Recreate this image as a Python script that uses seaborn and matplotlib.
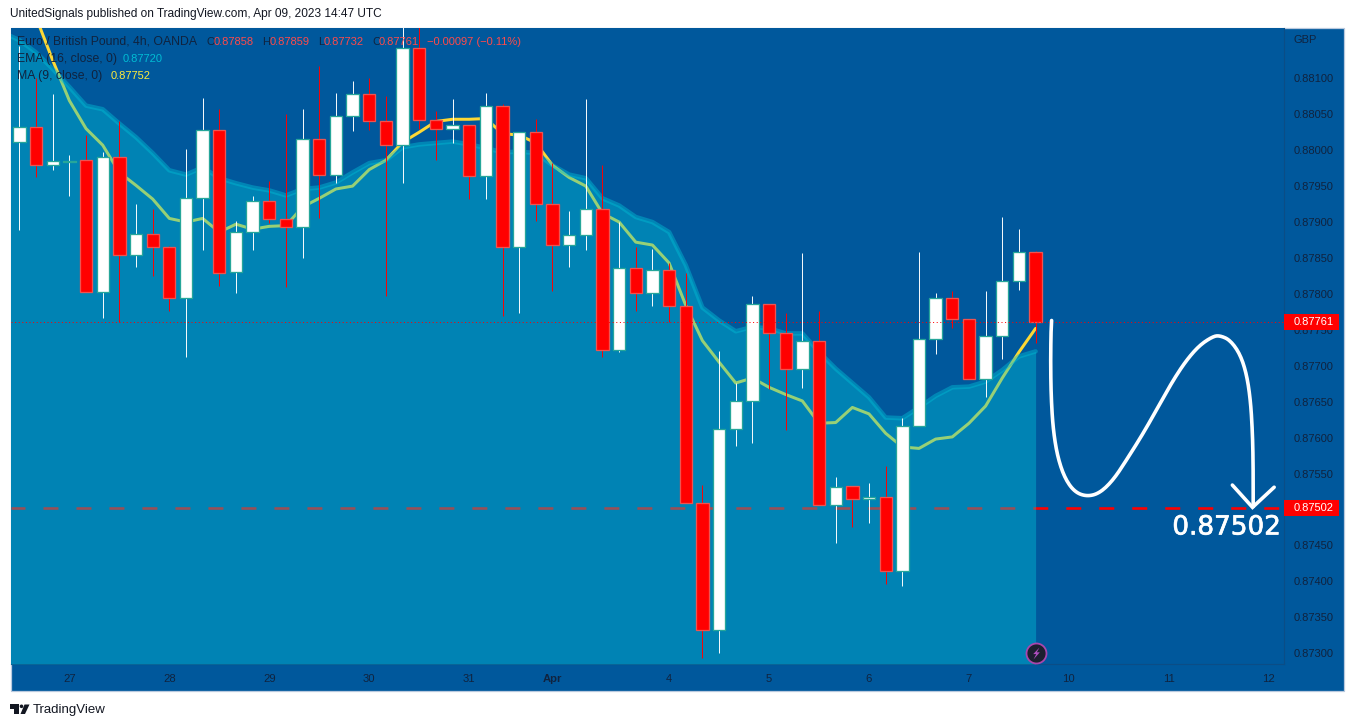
import numpy as np
import matplotlib
matplotlib.use("Agg")
import matplotlib.pyplot as plt
import matplotlib.patheffects as pe
from matplotlib.patches import Rectangle, Polygon, Ellipse
from matplotlib.transforms import blended_transform_factory
import seaborn as sns

opens = [.88012,.88032,.87980,.87984,.87986,.87802,.87990,.87854,.87884,.87865,
 .87794,.87934,.88028,.87830,.87886,.87929,.87904,.87893,.88015,.87966,
 .88047,.88078,.88040,.88007,.88142,.88042,.88029,.88035,.87964,.88062,
 .87865,.88025,.87925,.87868,.87882,.87918,.87722,.87836,.87801,.87833,
 .87783,.87509,.87332,.87612,.87651,.87786,.87745,.87695,.87734,.87506,
 .87532,.87514,.87518,.87415,.87616,.87737,.87794,.87765,.87681,.87742,
 .87818,.87858]
closes = [.88032,.87980,.87985,.87985,.87802,.87990,.87854,.87884,.87865,.87794,
 .87934,.88028,.87829,.87886,.87929,.87904,.87893,.88015,.87966,.88047,
 .88078,.88040,.88007,.88142,.88042,.88029,.88035,.87964,.88062,.87865,
 .88025,.87925,.87868,.87882,.87918,.87722,.87836,.87801,.87833,.87783,
 .87509,.87332,.87612,.87651,.87786,.87745,.87695,.87734,.87506,.87531,
 .87514,.87518,.87415,.87616,.87737,.87794,.87765,.87681,.87742,.87818,
 .87858,.87761]
highs = [.88145,.88100,.88078,.87993,.88021,.87998,.88040,.87925,.87918,.87866,
 .88001,.88072,.88057,.87902,.87936,.87957,.88051,.88057,.88117,.88079,
 .88096,.88100,.88075,.88175,.88175,.88054,.88071,.88035,.88079,.88064,
 .88025,.88044,.87982,.87915,.88071,.87980,.87900,.87865,.87862,.87843,
 .87829,.87534,.87720,.87676,.87797,.87786,.87774,.87857,.87776,.87545,
 .87532,.87537,.87560,.87628,.87858,.87801,.87804,.87765,.87804,.87907,
 .87890,.87859]
lows = [.87889,.87962,.87972,.87936,.87802,.87766,.87761,.87838,.87825,.87776,
 .87712,.87861,.87811,.87801,.87861,.87898,.87809,.87850,.87905,.87954,
 .88026,.88028,.87797,.87954,.88030,.87987,.88010,.87932,.87932,.87769,
 .87773,.87902,.87804,.87838,.87861,.87712,.87719,.87776,.87783,.87761,
 .87509,.87293,.87300,.87588,.87592,.87667,.87610,.87669,.87506,.87454,
 .87475,.87481,.87396,.87393,.87616,.87716,.87752,.87681,.87656,.87710,
 .87805,.87732]
# MA(9) starts at candle 1, EMA(16) starts one candle before the first visible one
ma_values = [.88185,.88125,.88069,.88030,.88007,.87969,.87951,.87932,.87905,.87900,
 .87905,.87886,.87897,.87890,.87894,.87895,.87921,.87933,.87946,.87950,
 .87973,.87986,.88011,.88025,.88040,.88043,.88043,.88044,.88023,.88021,
 .88010,.87979,.87962,.87950,.87912,.87900,.87872,.87868,.87843,.87784,
 .87735,.87705,.87676,.87683,.87670,.87660,.87651,.87620,.87621,.87642,
 .87633,.87606,.87587,.87585,.87598,.87601,.87620,.87644,.87683,.87719,.87752]
ema_values = [.88164,.88153,.88136,.88113,.88088,.88062,.88057,.88037,.88018,.87996,
 .87972,.87966,.87976,.87961,.87954,.87948,.87944,.87937,.87946,.87948,
 .87955,.87969,.87982,.87986,.88004,.88008,.88010,.88012,.88008,.88003,
 .87997,.87998,.87996,.87979,.87966,.87961,.87933,.87923,.87907,.87900,
 .87886,.87840,.87781,.87763,.87748,.87754,.87752,.87745,.87745,.87719,
 .87696,.87676,.87656,.87628,.87627,.87642,.87658,.87670,.87671,.87678,
 .87694,.87713,.87720]
date_labels = ["27","28","29","30","31","Apr","4","5","6","7","10","11","12"]
date_positions = [3,9,15,21,27,32,39,45,51,57,63,69,75]
price_ticks = [.873,.8735,.874,.8745,.875,.8755,.876,.8765,.877,.8775,.878,.8785,.879,.8795,.88,.8805,.881]
last_price = 0.87761
target_price = 0.87502
# hand-drawn projection: candle-index and price
sketch_t = [61.96,61.92,61.90,61.94,62.06,62.32,62.76,63.36,64.10,64.86,65.66,66.46,67.46,
            68.46,69.26,70.06,70.86,71.66,72.06,72.66,73.26,73.66,73.90,74.02,74.06,74.06]
sketch_p = [.87763,.87745,.87698,.87652,.87610,.87573,.87543,.87524,.87518,.87523,.87541,.87569,.87606,
            .87647,.87680,.87708,.87729,.87741,.87742,.87736,.87717,.87689,.87652,.87606,.87559,.87504]
head_t = [72.81,74.02,75.32]
head_p = [.87534,.87503,.87531]

W, H = 1354, 727
PANE = "#00589c"
FILL = "#00c6d9"
INK = "#10233f"
sns.set_theme(style="ticks", rc={"font.family": "Liberation Sans", "axes.facecolor": PANE})
fig = plt.figure(figsize=(W/100, H/100), dpi=100, facecolor="white")
def px(v): return v*0.72
fig.add_artist(Rectangle((11/W, 1-691/H), 1333/W, 663/H, transform=fig.transFigure,
                         facecolor=PANE, edgecolor="#b9c9de", lw=0.9, zorder=0))
ax = fig.add_axes([11/W, 1-664/H, 1273/W, 636/H], zorder=1)
ax.set_xlim(-0.504, 75.91)
ax.set_ylim(0.87285, 0.88170)
for s in ("left", "top"):
    ax.spines[s].set_visible(False)
for s in ("right", "bottom"):
    ax.spines[s].set_color("#0b4d86")
    ax.spines[s].set_linewidth(0.8)

idx = np.arange(len(opens))
ema_idx = np.arange(-1, len(opens))
ma_idx = np.arange(1, len(opens))

# under the translucent area
ax.axhline(target_price, color="#ff0000", lw=px(2.6), ls=(0.4, (5.77, 6.92)), zorder=1.5)
sns.lineplot(x=ma_idx, y=ma_values, ax=ax, color="#fdd835", lw=px(3), estimator=None, sort=False, zorder=2)
ax.fill_between(ema_idx, ema_values, 0.87285, color=FILL, alpha=0.4, lw=0, zorder=3)
sns.lineplot(x=ema_idx, y=ema_values, ax=ax, color="#00bcd4", lw=px(4.5), alpha=0.45, estimator=None, sort=False, zorder=3.2)

up = np.array(closes) >= np.array(opens)
ax.vlines(idx[up], np.array(lows)[up], np.array(highs)[up], color="white", lw=px(0.95), zorder=4, snap=True)
ax.vlines(idx[~up], np.array(lows)[~up], np.array(highs)[~up], color="#ff0000", lw=px(0.95), zorder=4, snap=True)
o, c = np.array(opens), np.array(closes)
ax.bar(idx[up], (c-o)[up], bottom=o[up], width=0.74, color="white", edgecolor="#26a69a", lw=px(1.3), zorder=5)
ax.bar(idx[~up], (c-o)[~up], bottom=o[~up], width=0.74, color="#ff0000", edgecolor="#ef5350", lw=px(1.3), zorder=5)
ax.axhline(last_price, color="#ff0000", lw=px(1), ls=(0, (1, 2.6)), zorder=6)

# projection sketch
def chaikin(x, y, n=3):
    p = np.column_stack([x, y])
    for _ in range(n):
        q = 0.75*p[:-1] + 0.25*p[1:]
        r = 0.25*p[:-1] + 0.75*p[1:]
        p = np.vstack([p[:1], np.column_stack([q, r]).reshape(-1, 2), p[-1:]])
    return p[:, 0], p[:, 1]
st, sp = chaikin(sketch_t, sketch_p)
ax.plot(st, sp, color="white", lw=px(3.6), solid_capstyle="round", solid_joinstyle="round", zorder=7)
ax.plot(head_t, head_p, color="white", lw=px(3.6), solid_capstyle="round", solid_joinstyle="miter", zorder=7)
ax.text(75.72, 0.87475, "0.87502", color="white", fontsize=18.9, family="DejaVu Sans", ha="right", va="center", zorder=8,
        path_effects=[pe.withStroke(linewidth=0.5, foreground="white")])

# axes
ax.set_xticks(date_positions, date_labels)
for lab in ax.get_xticklabels():
    lab.set_fontweight("bold" if lab.get_text() == "Apr" else "normal")
ax.tick_params(axis="x", length=0, pad=7, labelsize=8.1, labelcolor=INK)
ax.yaxis.tick_right()
ax.set_yticks(price_ticks, [f"{v:.5f}" for v in price_ticks])
ax.tick_params(axis="y", length=0, pad=7.2, labelsize=8, labelcolor=INK)

# price flags
tr = blended_transform_factory(ax.transAxes, ax.transData)
for price in (last_price, target_price):
    ax.add_patch(Rectangle((1.0, price-0.000115), 55/1273, 0.00023, transform=tr, facecolor="#ff0000",
                           edgecolor="none", clip_on=False, zorder=10))
    ax.text(1.0+10/1273, price, f"{price:.5f}", transform=tr, color="white", fontsize=8, va="center", ha="left", clip_on=False, zorder=11)

# lightning badge
bolt = [(0.5,1),(-0.55,-0.1),(-0.05,-0.1),(-0.5,-1),(0.55,0.2),(0.05,0.2)]
ax.scatter([61], [0.87301], s=(px(20))**2, color="#1c1f2e", edgecolor="#a846ad", lw=px(1.8), zorder=9, clip_on=False)
ax.scatter([61], [0.87301], s=(px(12))**2, color="#b04fc0", marker=bolt, lw=0, zorder=10, clip_on=False)

# texts in pixel positions
def T(x, y, s, color=INK, size=8, **kw):
    fig.text(x/W, 1-y/H, s, color=color, fontsize=size, va="center", ha="left", zorder=20, **kw)
T(10, 14, "UnitedSignals published on TradingView.com, Apr 09, 2023 14:47 UTC", "#131722", 8.6)
T(1294, 40, "GBP", INK, 8)
RED = "#ff4a4a"
T(17, 42, "Euro / British Pound, 4h, OANDA", INK, 8.8)
T(206, 42, "O", INK, 8); T(214, 42, "0.87858", RED, 8)
T(262, 42, "H", INK, 8); T(270, 42, "0.87859", RED, 8)
T(318, 42, "L", INK, 8); T(324, 42, "0.87732", RED, 8)
T(372, 42, "C", INK, 8); T(379, 42, "0.87761", RED, 8)
T(427, 42, "\u22120.00097 (\u22120.11%)", RED, 8)
T(17, 59, "EMA (16, close, 0)", INK, 8.8); T(123, 59, "0.87720", "#00bcd4", 8)
T(17, 76, "MA (9, close, 0)", INK, 8.8); T(111, 76, "0.87752", "#ffeb3b", 8)

# TradingView mark
def P(pts):
    fig.add_artist(Polygon([(x/W, 1-y/H) for x, y in pts], closed=True, transform=fig.transFigure,
                           facecolor="#131722", edgecolor="none", zorder=20))
P([(10,704),(19,704),(19,714),(14,714),(14,709),(10,709)])
P([(24.5,704.5),(29.5,704.5),(25,714),(20.5,714)])
fig.add_artist(Ellipse((21.5/W, 1-706.3/H), 3.6/W, 3.6/H, transform=fig.transFigure,
                       facecolor="#131722", edgecolor="none", zorder=20))
T(33, 710, "TradingView", "#131722", 9.5)

fig.savefig("out.png", dpi=100)
